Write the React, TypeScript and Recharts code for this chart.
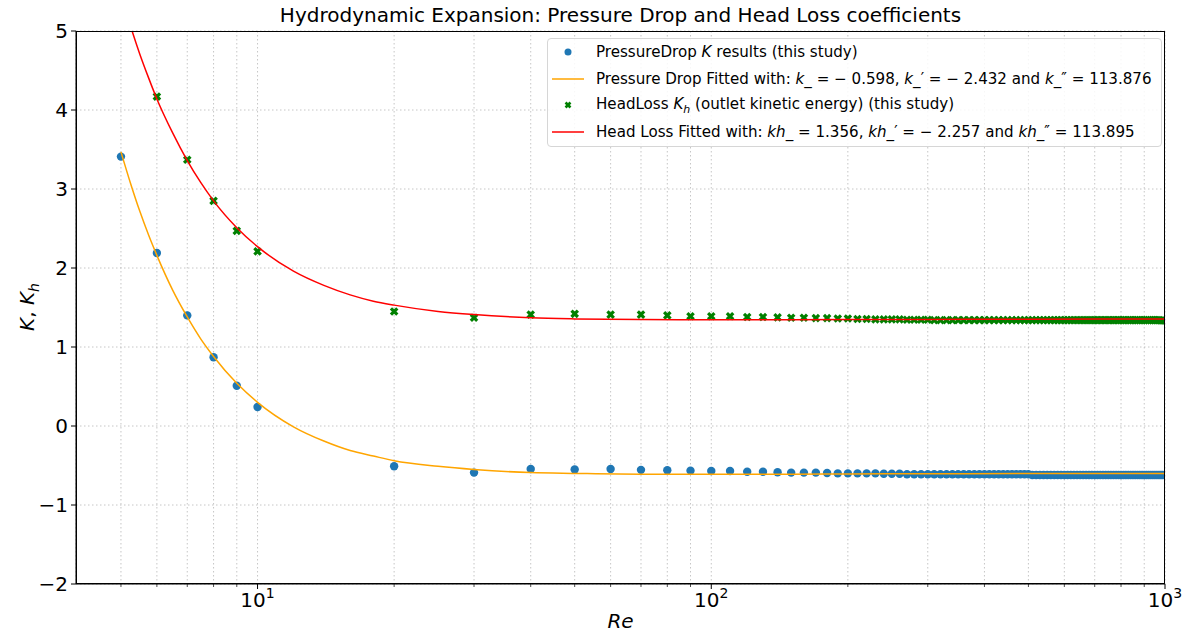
import React from "react";
import {
  ComposedChart,
  Scatter,
  Line,
  XAxis,
  YAxis,
  CartesianGrid,
  Legend,
} from "recharts";

// Reynolds numbers of the study points
const RE = [
  5, 6, 7, 8, 9, 10,
  20, 30, 40, 50, 60, 70, 80, 90, 100,
  110, 120, 130, 140, 150, 160, 170, 180, 190, 200,
  210, 220, 230, 240, 250, 260, 270, 280, 290, 300,
  310, 320, 330, 340, 350, 360, 370, 380, 390, 400,
  410, 420, 430, 440, 450, 460, 470, 480, 490, 500,
  510, 520, 530, 540, 550, 560, 570, 580, 590, 600,
  610, 620, 630, 640, 650, 660, 670, 680, 690, 700,
  710, 720, 730, 740, 750, 760, 770, 780, 790, 800,
  810, 820, 830, 840, 850, 860, 870, 880, 890, 900,
  910, 920, 930, 940, 950, 960, 970, 980, 990, 1000,
];

// PressureDrop K (this study)
const PRESSURE_K = [
  3.41, 2.19, 1.4, 0.87, 0.51, 0.24,
  -0.51, -0.59, -0.545, -0.55, -0.545, -0.555, -0.56, -0.565, -0.57,
  -0.57, -0.58, -0.58, -0.585, -0.59, -0.59, -0.59, -0.595, -0.6, -0.6,
  -0.6, -0.6, -0.6, -0.605, -0.605, -0.605, -0.61, -0.61, -0.61, -0.61,
  -0.61, -0.61, -0.61, -0.61, -0.61, -0.61, -0.61, -0.61, -0.61, -0.61,
  -0.61, -0.61, -0.61, -0.61, -0.61, -0.61, -0.61, -0.61, -0.61, -0.61,
  -0.62, -0.62, -0.62, -0.62, -0.62, -0.62, -0.62, -0.62, -0.62, -0.62,
  -0.62, -0.62, -0.62, -0.62, -0.62, -0.62, -0.62, -0.62, -0.62, -0.62,
  -0.62, -0.62, -0.62, -0.62, -0.62, -0.62, -0.62, -0.62, -0.62, -0.62,
  -0.62, -0.62, -0.62, -0.62, -0.62, -0.62, -0.62, -0.62, -0.62, -0.62,
  -0.62, -0.62, -0.62, -0.62, -0.62, -0.62, -0.62, -0.62, -0.62, -0.62,
];

// HeadLoss Kh (outlet kinetic energy); Re=5 lies above the plot
const HEAD_KH = [
  null, 4.17, 3.37, 2.85, 2.47, 2.21,
  1.45, 1.37, 1.41, 1.42, 1.41, 1.41, 1.4, 1.39, 1.39,
  1.39, 1.38, 1.38, 1.375, 1.37, 1.37, 1.365, 1.365, 1.36, 1.36,
  1.355, 1.355, 1.35, 1.35, 1.35, 1.35, 1.345, 1.345, 1.345, 1.345,
  1.34, 1.34, 1.34, 1.34, 1.34, 1.34, 1.34, 1.34, 1.34, 1.34,
  1.34, 1.34, 1.34, 1.34, 1.34, 1.34, 1.34, 1.34, 1.34, 1.34,
  1.34, 1.34, 1.34, 1.34, 1.34, 1.34, 1.34, 1.34, 1.34, 1.34,
  1.34, 1.34, 1.34, 1.34, 1.34, 1.34, 1.34, 1.34, 1.34, 1.34,
  1.34, 1.34, 1.34, 1.34, 1.34, 1.34, 1.34, 1.34, 1.34, 1.34,
  1.34, 1.34, 1.34, 1.34, 1.34, 1.34, 1.34, 1.34, 1.34, 1.34,
  1.34, 1.34, 1.34, 1.34, 1.34, 1.34, 1.34, 1.335, 1.335, 1.335,
];

// fitted curves
const FIT_RE = [5, 5.25, 5.5, 5.75, 6, 6.5, 7, 7.5, 8, 9, 10, 12, 14, 16, 18, 20, 25, 30, 40, 50, 70, 100, 150, 200, 300, 500, 1000];
const FIT_K = [3.47, 3.07, 2.72, 2.42, 2.16, 1.72, 1.38, 1.1, 0.88, 0.54, 0.3, -0.01, -0.19, -0.31, -0.38, -0.44, -0.51, -0.55, -0.59, -0.6, -0.61, -0.61, -0.61, -0.607, -0.605, -0.602, -0.6];
const FIT_KH = [5.46, 5.06, 4.71, 4.41, 4.14, 3.71, 3.36, 3.08, 2.85, 2.51, 2.27, 1.96, 1.78, 1.66, 1.58, 1.53, 1.45, 1.41, 1.37, 1.356, 1.347, 1.345, 1.346, 1.347, 1.349, 1.352, 1.354];

const X_TICKS = [5, 6, 7, 8, 9, 10, 20, 30, 40, 50, 60, 70, 80, 90, 100, 200, 300, 400, 500, 600, 700, 800, 900, 1000];
const Y_TICKS = [-2, -1, 0, 1, 2, 3, 4, 5];

const FONT = "'DejaVu Sans', sans-serif";
const BLUE = "#1f77b4";
const ORANGE = "#ffa500";
const GREEN = "#008000";
const RED = "#ff0000";

const pressurePts = RE.map((re, i) => ({ re, v: PRESSURE_K[i] }));
const headPts = RE.map((re, i) => ({ re, v: HEAD_KH[i] })).filter((p) => p.v !== null);
const fitK = FIT_RE.map((re, i) => ({ re, v: FIT_K[i] }));
const fitKh = FIT_RE.map((re, i) => ({ re, v: FIT_KH[i] }));

const XMark = ({ cx, cy, s = 4.5, t = 1.6 }: any) => (
  <g transform={`translate(${cx},${cy}) rotate(45)`} fill={GREEN}>
    <rect x={-s} y={-t} width={2 * s} height={2 * t} />
    <rect x={-t} y={-s} width={2 * t} height={2 * s} />
  </g>
);

const Dot = ({ cx, cy }: any) => <circle cx={cx} cy={cy} r={4.2} fill={BLUE} />;

const XTick = ({ x, y, payload }: any) => {
  const v = payload.value;
  const exp = v === 10 ? 1 : v === 100 ? 2 : v === 1000 ? 3 : 0;
  return (
    <g>
      <line x1={x} x2={x} y1={y} y2={y + (exp ? 5 : 3)} stroke="#000" strokeWidth={exp ? 1 : 0.7} />
      {exp > 0 && (
        <text x={x} y={y + 23} textAnchor="middle" fontSize={20} fontFamily={FONT} fill="#000">
          10
          <tspan dy={-9} fontSize={14}>{exp}</tspan>
        </text>
      )}
    </g>
  );
};

const LegendRow = ({ marker, children }: any) => (
  <div style={{ display: "flex", alignItems: "center", height: 26.5 }}>
    <svg width={48} height={14} style={{ flex: "none" }}>
      {marker}
    </svg>
    <span style={{ whiteSpace: "nowrap" }}>{children}</span>
  </div>
);

const renderLegend = () => (
  <div
    style={{
      border: "1px solid #d6d6d6",
      borderRadius: 4,
      background: "rgba(255,255,255,0.85)",
      fontFamily: FONT,
      fontSize: 15.1,
      color: "#000",
      width: 615,
      height: 109,
      boxSizing: "border-box",
      paddingTop: 0,
      textAlign: "left",
    }}
  >
    <LegendRow marker={<circle cx={20} cy={7} r={3.5} fill={BLUE} />}>
      PressureDrop <i>K</i> results (this study)
    </LegendRow>
    <LegendRow marker={<line x1={4} x2={36} y1={7} y2={7} stroke={ORANGE} strokeWidth={1.5} />}>
      Pressure Drop Fitted with: <i>k</i>_ = − 0.598, <i>k</i>_′ = − 2.432 and <i>k</i>_″ = 113.876
    </LegendRow>
    <LegendRow marker={<XMark cx={20} cy={7} s={3.5} t={1.3} />}>
      HeadLoss <i>K<sub style={{ fontSize: 11 }}>h</sub></i> (outlet kinetic energy) (this study)
    </LegendRow>
    <LegendRow marker={<line x1={4} x2={36} y1={7} y2={7} stroke={RED} strokeWidth={1.5} />}>
      Head Loss Fitted with: <i>kh</i>_ = 1.356, <i>kh</i>_′ = − 2.257 and <i>kh</i>_″ = 113.895
    </LegendRow>
  </div>
);

export default function App() {
  return (
    <div style={{ position: "absolute", left: 0, top: 0, width: 1185, height: 638, background: "#fff", fontFamily: FONT }}>
      <div style={{ position: "absolute", left: 76, width: 1089, top: 3, textAlign: "center", fontSize: 20, color: "#000" }}>
        Hydrodynamic Expansion: Pressure Drop and Head Loss coefficients
      </div>
      <ComposedChart width={1185} height={638} margin={{ top: 31, right: 20, bottom: 14, left: 16 }}>
        <CartesianGrid stroke="#b8b8b8" strokeDasharray="1.5 2.5" strokeWidth={0.8} />
        <XAxis
          dataKey="re"
          type="number"
          scale="log"
          domain={[3.98, 1000]}
          allowDataOverflow
          ticks={X_TICKS}
          interval={0}
          tick={<XTick />}
          tickLine={false}
          tickSize={0}
          tickMargin={0}
          height={40}
          axisLine={{ stroke: "#000" }}
        />
        <YAxis
          type="number"
          domain={[-2, 5]}
          allowDataOverflow
          ticks={Y_TICKS}
          width={60}
          tickSize={5}
          tickMargin={3}
          tickLine={{ stroke: "#000" }}
          axisLine={{ stroke: "#000" }}
          tick={{ fontSize: 20, fontFamily: FONT, fill: "#000" }}
          tickFormatter={(v: number) => (v < 0 ? "\u2212" + Math.abs(v) : String(v))}
        />
        <Scatter data={pressurePts} dataKey="v" shape={<Dot />} isAnimationActive={false} zIndex={600} />
        <Line data={fitK} dataKey="v" type="monotone" stroke={ORANGE} strokeWidth={1.5} dot={false} activeDot={false} isAnimationActive={false} zIndex={610} />
        <Scatter data={headPts} dataKey="v" shape={<XMark />} isAnimationActive={false} zIndex={620} />
        <Line data={fitKh} dataKey="v" type="monotone" stroke={RED} strokeWidth={1.5} dot={false} activeDot={false} isAnimationActive={false} zIndex={630} />
        <Legend
          layout="horizontal"
          verticalAlign="middle"
          align="center"
          content={renderLegend}
          wrapperStyle={{ top: 38, left: 547, width: 615 }}
        />
      </ComposedChart>
      <div style={{ position: "absolute", left: 76, top: 584 - 553, width: 1089, height: 553, border: "1px solid #000", boxSizing: "border-box", pointerEvents: "none" }} />
      <div style={{ position: "absolute", left: 76, width: 1089, top: 609, textAlign: "center", fontSize: 20, fontStyle: "italic", color: "#000" }}>
        Re
      </div>
      <div
        style={{
          position: "absolute",
          left: 28,
          top: 307,
          transform: "translate(-50%, -50%) rotate(-90deg)",
          fontSize: 20,
          color: "#000",
          whiteSpace: "nowrap",
        }}
      >
        <i>K</i>, <i>K<sub style={{ fontSize: 14 }}>h</sub></i>
      </div>
    </div>
  );
}
